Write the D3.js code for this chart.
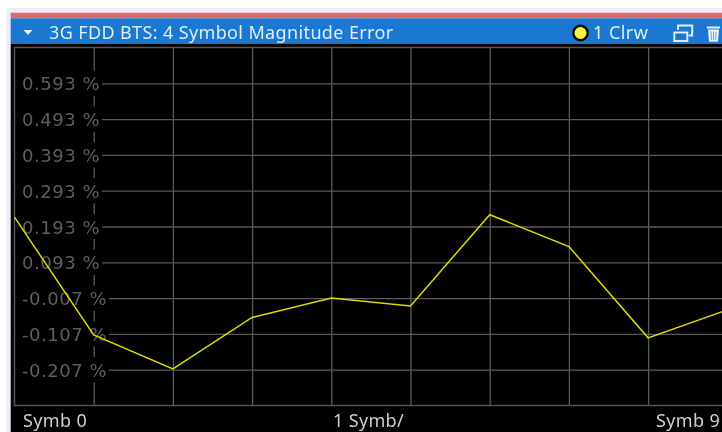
<!DOCTYPE html>
<html><head><meta charset="utf-8">
<script src="https://cdn.jsdelivr.net/npm/d3@7"></script>
<style>html,body{margin:0;padding:0;background:#fff;overflow:hidden}svg{display:block;filter:blur(.4px)}text{font-family:"Noto Sans",sans-serif}</style>
</head><body><svg id="c" width="722" height="432"></svg>
<script>
const title = "3G FDD BTS: 4 Symbol Magnitude Error";
const traceLabel = "1 Clrw";
const symbols = [0,1,2,3,4,5,6,7,8,9];
const errorValues = [0.219,-0.110,-0.205,-0.061,-0.007,-0.029,0.226,0.137,-0.118,-0.040];
const yTicks = [0.593,0.493,0.393,0.293,0.193,0.093,-0.007,-0.107,-0.207];
const xLabels = ["Symb 0","1 Symb/","Symb 9"];

const svg = d3.select("#c");
const L=14.5,T=47.5,B=405.5;
const x = d3.scaleLinear().domain([0,9]).range([L,L+9*79.2]);
const y = d3.scaleLinear().domain([-0.307,0.693]).range([B,T]);

svg.append("rect").attr("x",6).attr("y",8).attr("width",716).attr("height",424).attr("fill","#eeeef6");
svg.append("rect").attr("x",10.7).attr("y",12.7).attr("width",712).attr("height",5.6).attr("fill","#dd6b66");
svg.append("rect").attr("x",10.7).attr("y",18.3).attr("width",712).attr("height",26).attr("fill","#1a78d2");
svg.append("rect").attr("x",10.7).attr("y",44).attr("width",712).attr("height",388).attr("fill","#000");

// header
svg.append("path").attr("d","M23.5 30h9l-4.5 5z").attr("fill","#e8f2fb");
svg.append("text").attr("x",49).attr("y",38.5).attr("fill","#dcecfa").attr("font-size",18).attr("letter-spacing",.37).text(title);
svg.append("circle").attr("cx",580.5).attr("cy",33).attr("r",7.2).attr("fill","#fff23a").attr("stroke","#0b0b0b").attr("stroke-width",2.4);
svg.append("text").attr("x",593).attr("y",38.5).attr("fill","#dcecfa").attr("font-size",18).attr("letter-spacing",.45).text(traceLabel);
const icons = svg.append("g").attr("fill","none").attr("stroke","#e6f1fb").attr("stroke-width",1.9);
icons.append("rect").attr("x",674.3).attr("y",32.5).attr("width",13).attr("height",8.5);
icons.append("path").attr("d","M678 30v-4.5h14.2v10h-3.5");
const trash = svg.append("g");
trash.append("path").attr("d","M706.7 26.5h13.3v2h-13.3zM708 29.5h11l-1 12.3h-9z").attr("fill","#e6f1fb");
trash.append("path").attr("d","M711 31.5l.4 8.5M713.5 31.5v8.5M716 31.5l-.4 8.5").attr("stroke","#6aa8e2").attr("stroke-width",1);

// grid via axes
const plot = svg.append("g");
const gridColor="#5a5a5a";
const xAxis = d3.axisBottom(x).tickValues(symbols.slice(1,9)).tickSize(B-T).tickFormat("");
const gx = plot.append("g").attr("transform",`translate(0,${T})`).call(xAxis);
gx.select(".domain").remove();
gx.selectAll("line").attr("stroke",gridColor).attr("stroke-width",1.3);
const yAxis = d3.axisRight(y).tickValues(yTicks).tickSize(730).tickFormat(d=>d3.format(".3f")(d).replace("\u2212","-")+" %");
const gy = plot.append("g").attr("transform",`translate(${L},0)`).call(yAxis);
gy.select(".domain").remove();
gy.selectAll("line").attr("stroke",gridColor).attr("stroke-width",1.3);
plot.append("rect").attr("x",L).attr("y",T).attr("width",730).attr("height",B-T).attr("fill","none").attr("stroke",gridColor).attr("stroke-width",1.4);
// labels with black plates that interrupt the grid
gy.selectAll(".tick").each(function(){
  const t=d3.select(this), txt=t.select("text");
  txt.attr("x",7.5).attr("dy",null).attr("y",6.5).attr("fill","#5e5e5e").attr("font-size",18).attr("style","letter-spacing:.55px;font-family:'DejaVu Sans',sans-serif");
  const b=txt.node().getBBox();
  t.insert("rect","text").attr("x",0.8).attr("y",-13).attr("width",b.x+b.width+1).attr("height",25).attr("fill","#000");
});
// trace
const line=d3.line().x((d,i)=>x(symbols[i])).y(d=>y(d));
svg.append("path").datum(errorValues).attr("d",line).attr("fill","none").attr("stroke","#dcdc00").attr("stroke-width",1.5);
// bottom labels
const bx=[23,333,656];
xLabels.forEach((s,i)=>svg.append("text").attr("x",bx[i]).attr("y",427).attr("fill","#cfcfcf").attr("font-size",18).attr("letter-spacing",.35).text(s));
</script></body></html>
